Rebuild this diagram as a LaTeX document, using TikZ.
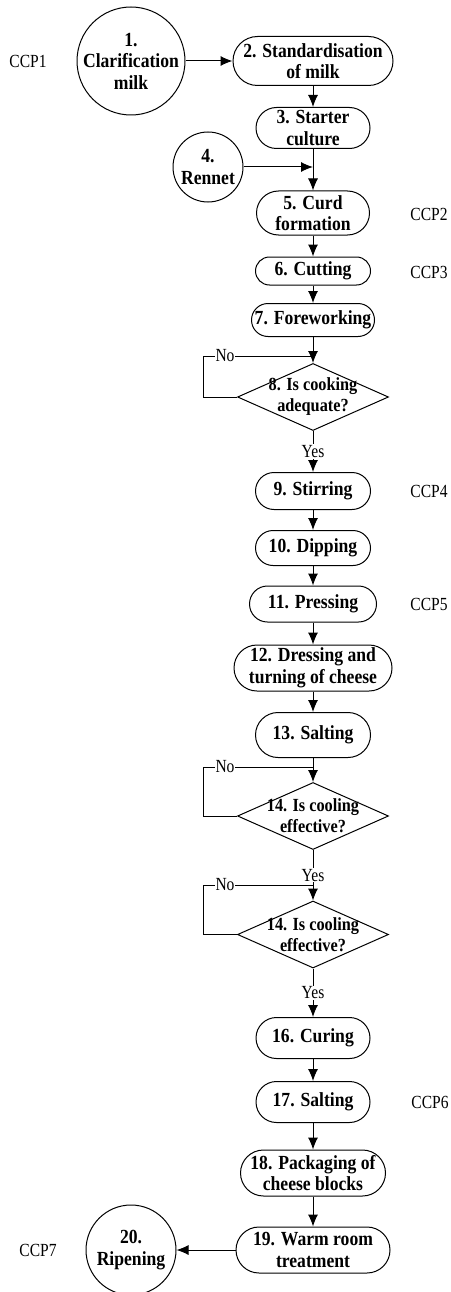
\documentclass[tikz,border=0pt]{standalone}
\usepackage{fontspec}
\setmainfont{Liberation Serif}
\newfontfamily\stepfont{Liberation Serif}[FakeStretch=0.88]
\newfontfamily\ccpfont{Liberation Serif}[FakeStretch=0.84]
\usetikzlibrary{shapes.geometric,arrows.meta}
\begin{document}
\begin{tikzpicture}[x=1pt,y=-1pt,
 line width=1pt,
 stepbox/.style={draw, rectangle, inner sep=0pt, align=center, font=\stepfont\bfseries\fontsize{20}{21.5}\selectfont},
 rnd/.style={draw, circle, inner sep=-4pt, align=center, font=\stepfont\bfseries\fontsize{20}{21.5}\selectfont},
 ccp/.style={font=\ccpfont\fontsize{18.5}{20}\selectfont, inner sep=0pt},
 dec/.style={draw, diamond, minimum width=151pt, minimum height=67pt, inner sep=0pt},
 dectext/.style={align=center, inner sep=0pt, font=\stepfont\bfseries\fontsize{18.5}{21}\selectfont},
 arr/.style={-{Latex[length=12pt,width=10pt]}},
 lbl/.style={fill=white, inner sep=1pt, font=\ccpfont\fontsize{18.5}{20}\selectfont},
]
\useasboundingbox (0,0) rectangle (450,1292);

\node[rnd, minimum size=108pt] (n1) at (131,61) {1.\\Clarification\\milk};
\node[stepbox, minimum width=160pt, minimum height=49pt, rounded corners=24.5pt] (n2) at (313,61) {2. Standardisation\\of milk};
\node[stepbox, minimum width=114pt, minimum height=41pt, rounded corners=20.5pt] (n3) at (313,128) {3. Starter\\culture};
\node[rnd, minimum size=70pt] (n4) at (208,167) {4.\\Rennet};
\node[stepbox, minimum width=113pt, minimum height=44pt, rounded corners=22pt] (n5) at (313,213) {5. Curd\\formation};
\node[stepbox, minimum width=115pt, minimum height=28pt, rounded corners=14pt] (n6) at (313,271) {6. Cutting};
\node[stepbox, minimum width=123pt, minimum height=33pt, rounded corners=16.5pt] (n7) at (313,320) {7. Foreworking};
\node[dec, label={[dectext]center:{8. Is cooking\\adequate?}}] (d8) at (313,397) {};
\node[stepbox, minimum width=115pt, minimum height=37pt, rounded corners=18.5pt] (n9) at (313,491) {9. Stirring};
\node[stepbox, minimum width=115pt, minimum height=35pt, rounded corners=17.5pt] (n10) at (313,548) {10. Dipping};
\node[stepbox, minimum width=127pt, minimum height=36pt, rounded corners=18pt] (n11) at (313,604) {11. Pressing};
\node[stepbox, minimum width=158pt, minimum height=46pt, rounded corners=23pt] (n12) at (313,668) {12. Dressing and\\turning of cheese};
\node[stepbox, minimum width=115pt, minimum height=45pt, rounded corners=22.5pt] (n13) at (313,735) {13. Salting};
\node[dec, label={[dectext]center:{14. Is cooling\\effective?}}] (d14a) at (313,816) {};
\node[dec, label={[dectext]center:{14. Is cooling\\effective?}}] (d14b) at (313,934.5) {};
\node[stepbox, minimum width=114pt, minimum height=41pt, rounded corners=20.5pt] (n16) at (313,1038) {16. Curing};
\node[stepbox, minimum width=114pt, minimum height=41pt, rounded corners=20.5pt] (n17) at (313,1102) {17. Salting};
\node[stepbox, minimum width=145pt, minimum height=46pt, rounded corners=23pt] (n18) at (313,1173) {18. Packaging of\\cheese blocks};
\node[stepbox, minimum width=154pt, minimum height=46pt, rounded corners=23pt] (n19) at (313,1250) {19. Warm room\\treatment};
\node[rnd, minimum size=90pt] (n20) at (131,1250) {20.\\Ripening};

\node[ccp] (k1) at (28,61) {CCP1};
\node[ccp] (k2) at (429,214) {CCP2};
\node[ccp] (k3) at (429,272) {CCP3};
\node[ccp] (k4) at (429,491) {CCP4};
\node[ccp] (k5) at (429,604) {CCP5};
\node[ccp] (k6) at (430,1102) {CCP6};
\node[ccp] (k7) at (38,1250) {CCP7};

\draw[arr] (n1) -- (n2);
\draw[arr] (n2) -- (n3);
\draw[arr] (n3) -- (n5);
\draw[arr] (n4) -- (n4 -| n3);
\draw[arr] (n5) -- (n6);
\draw[arr] (n6) -- (n7);
\draw[arr] (n7) -- (d8);
\coordinate (c8) at (203,356);
\draw (d8.west) -| (c8) -- node[lbl,pos=0.2]{No} (c8 -| d8.north);
\draw[arr] (d8) -- node[lbl]{Yes} (n9);
\draw[arr] (n9) -- (n10);
\draw[arr] (n10) -- (n11);
\draw[arr] (n11) -- (n12);
\draw[arr] (n12) -- (n13);
\draw[arr] (n13) -- (d14a);
\coordinate (c14a) at (203,767);
\draw (d14a.west) -| (c14a) -- node[lbl,pos=0.2]{No} (c14a -| d14a.north);
\draw[arr] (d14a) -- node[lbl]{Yes} (d14b);
\coordinate (c14b) at (203,885);
\draw (d14b.west) -| (c14b) -- node[lbl,pos=0.2]{No} (c14b -| d14b.north);
\draw[arr] (d14b) -- node[lbl]{Yes} (n16);
\draw[arr] (n16) -- (n17);
\draw[arr] (n17) -- (n18);
\draw[arr] (n18) -- (n19);
\draw[arr] (n19) -- (n20);
\end{tikzpicture}
\end{document}
